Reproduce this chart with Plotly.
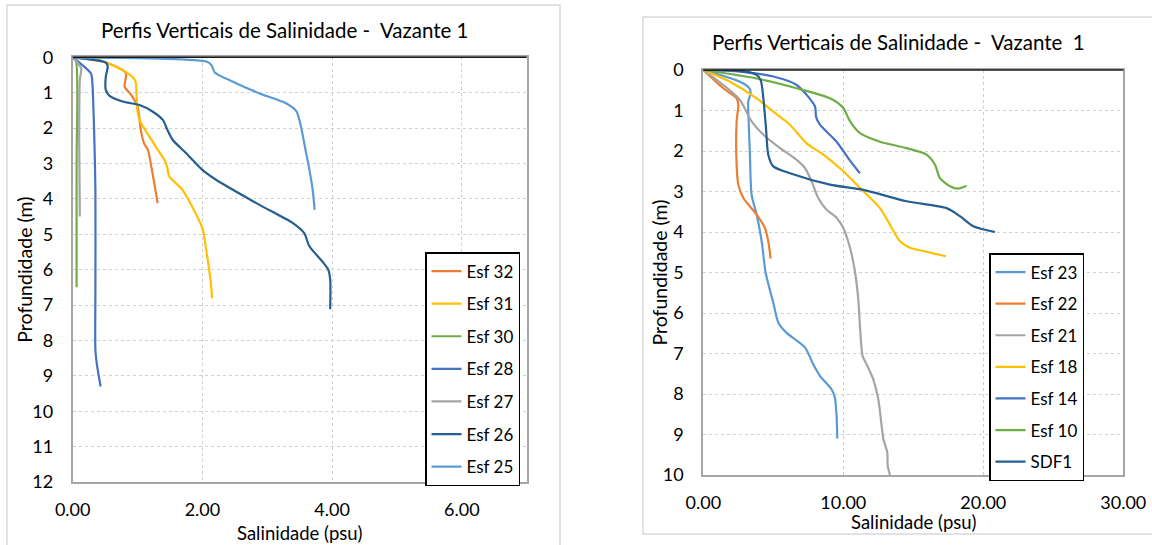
import plotly.graph_objects as go

# ---------------- data (salinity psu, depth m) ----------------
left_names = ["Esf 32", "Esf 31", "Esf 30", "Esf 28", "Esf 27", "Esf 26", "Esf 25"]
esf32_s = [0.0, 0.41, 0.82, 0.80, 0.90, 1.00, 1.05, 1.10, 1.16, 1.23, 1.31]
esf32_d = [0.0, 0.08, 0.45, 0.83, 1.06, 1.39, 2.05, 2.43, 2.62, 3.27, 4.12]
esf31_s = [0.0, 0.46, 0.72, 0.96, 0.99, 1.03, 1.28, 1.44, 1.49, 1.69, 2.00, 2.05, 2.13, 2.15]
esf31_d = [0.0, 0.12, 0.31, 0.64, 1.39, 1.77, 2.52, 2.99, 3.37, 3.74, 4.83, 5.34, 6.38, 6.81]
esf30_s = [0.0, 0.05, 0.06, 0.06]
esf30_d = [0.0, 0.10, 3.00, 6.50]
esf28_s = [0.0, 0.28, 0.30, 0.33, 0.35, 0.35, 0.35, 0.37, 0.43]
esf28_d = [0.0, 0.45, 0.64, 2.05, 3.74, 6.57, 8.27, 8.64, 9.30]
esf27_s = [0.0, 0.13, 0.11, 0.10, 0.11]
esf27_d = [0.0, 0.31, 0.64, 2.33, 4.50]
esf26_s = [0.0, 0.51, 0.54, 0.51, 0.51, 0.57, 0.77, 1.03, 1.23, 1.39, 1.46, 1.54, 1.75,
           2.00, 2.21, 2.88, 3.39, 3.57, 3.65, 3.85, 3.94, 3.97, 3.97]
esf26_d = [0.0, 0.15, 0.26, 0.55, 0.92, 1.09, 1.25, 1.35, 1.53, 1.77, 2.05, 2.33, 2.71,
           3.18, 3.46, 4.17, 4.68, 4.97, 5.34, 5.77, 6.00, 6.28, 7.12]
esf25_s = [0.0, 2.06, 2.14, 2.19, 2.47, 2.88, 3.29, 3.45, 3.52, 3.59, 3.65, 3.70, 3.73]
esf25_d = [0.0, 0.12, 0.22, 0.43, 0.69, 1.02, 1.30, 1.53, 1.96, 2.62, 3.18, 3.74, 4.31]

right_names = ["Esf 23", "Esf 22", "Esf 21", "Esf 18", "Esf 14", "Esf 10", "SDF1"]
esf23_s = [0.0, 2.62, 3.29, 3.38, 3.21, 3.24, 3.33, 3.45, 3.81, 4.17, 4.45, 5.00, 5.36,
           5.95, 7.26, 7.86, 8.33, 9.17, 9.40, 9.52, 9.57]
esf23_d = [0.0, 0.29, 0.45, 0.57, 0.78, 1.27, 2.09, 3.08, 3.57, 4.23, 5.00, 5.75, 6.24,
           6.49, 6.85, 7.27, 7.55, 7.89, 8.09, 8.54, 9.10]
esf22_s = [0.0, 1.43, 2.38, 2.50, 2.38, 2.38, 2.50, 2.86, 3.81, 4.40, 4.64, 4.81]
esf22_d = [0.0, 0.45, 0.70, 0.86, 1.27, 2.34, 2.83, 3.16, 3.57, 3.90, 4.23, 4.66]
esf21_s = [0.0, 1.43, 2.62, 3.45, 4.29, 5.48, 6.67, 7.26, 7.74, 8.21, 8.81, 9.52, 10.00,
           10.48, 10.83, 11.07, 11.19, 11.38, 11.67, 12.14, 12.50, 12.74, 12.86, 13.14, 13.17, 13.33]
esf21_d = [0.0, 0.37, 0.74, 1.27, 1.60, 1.93, 2.22, 2.42, 2.75, 3.16, 3.45, 3.65, 3.90,
           4.39, 4.97, 5.66, 6.32, 7.06, 7.27, 7.64, 8.13, 8.79, 9.11, 9.44, 9.77, 10.00]
esf18_s = [0.0, 1.90, 3.81, 5.00, 6.19, 7.38, 8.57, 10.00, 11.19, 12.62, 13.33, 14.05, 14.76, 15.71, 17.33]
esf18_d = [0.0, 0.29, 0.70, 1.03, 1.35, 1.81, 2.09, 2.50, 2.91, 3.41, 3.82, 4.23, 4.39, 4.47, 4.60]
esf14_s = [0.0, 2.62, 5.00, 6.67, 7.98, 8.05, 8.33, 9.52, 10.36, 11.19]
esf14_d = [0.0, 0.04, 0.16, 0.37, 0.90, 1.15, 1.35, 1.77, 2.18, 2.55]
esf10_s = [0.0, 3.81, 6.67, 9.05, 10.00, 10.48, 11.19, 12.62, 14.52, 15.95, 16.55, 16.90, 17.62, 18.21, 18.81]
esf10_d = [0.0, 0.21, 0.45, 0.70, 0.94, 1.27, 1.56, 1.77, 1.93, 2.09, 2.34, 2.67, 2.87, 2.93, 2.86]
sdf1_s = [0.0, 2.62, 3.81, 4.10, 4.29, 4.48, 4.64, 5.00, 6.19, 9.05, 11.43, 14.52, 17.38, 18.33, 19.29, 20.83]
sdf1_d = [0.0, 0.02, 0.12, 0.25, 0.70, 1.44, 2.09, 2.38, 2.55, 2.83, 2.96, 3.24, 3.41, 3.61, 3.86, 4.00]

title_text = "Perfis Verticais de Salinidade -&nbsp; Vazante 1"
title_text_r = "Perfis Verticais de Salinidade -&nbsp; Vazante&nbsp; 1"
x_title = "Salinidade (psu)"
y_title = "Profundidade (m)"

# ---------------- styles ----------------
ORANGE, YELLOW, GREEN, BLUE = "#ED7D31", "#FFC000", "#70AD47", "#4472C4"
GRAY, DBLUE, LBLUE = "#A5A5A5", "#255E91", "#5B9BD5"
FONT = "Lato"
W, H = 1152, 545

left_series = [(esf32_s, esf32_d, ORANGE), (esf31_s, esf31_d, YELLOW), (esf30_s, esf30_d, GREEN),
               (esf28_s, esf28_d, BLUE), (esf27_s, esf27_d, GRAY), (esf26_s, esf26_d, DBLUE),
               (esf25_s, esf25_d, LBLUE)]
right_series = [(esf23_s, esf23_d, LBLUE), (esf22_s, esf22_d, ORANGE), (esf21_s, esf21_d, GRAY),
                (esf18_s, esf18_d, YELLOW), (esf14_s, esf14_d, BLUE), (esf10_s, esf10_d, GREEN),
                (sdf1_s, sdf1_d, DBLUE)]

fig = go.Figure()
for name, (s, d, c) in zip(left_names, left_series):
    fig.add_trace(go.Scatter(x=s, y=d, name=name, mode="lines", xaxis="x", yaxis="y",
                             line=dict(color=c, width=2.2, shape="spline", smoothing=0.7),
                             legend="legend", legendgroup="L" + name))
for name, (s, d, c) in zip(right_names, right_series):
    fig.add_trace(go.Scatter(x=s, y=d, name=name, mode="lines", xaxis="x2", yaxis="y2",
                             line=dict(color=c, width=2.2, shape="spline", smoothing=0.7),
                             legend="legend2", legendgroup="R" + name))

def px_x(p):
    return p / W

def px_y(p):
    return 1 - p / H

# plot area pixel geometry
L = dict(x0=72.7, x1=526.7, y0=57.3, y1=482.0)
R = dict(x0=703.3, x1=1123.3, y0=70.0, y1=475.0)

axis_common = dict(showgrid=True, gridcolor="#D0D0D0", griddash="dot", gridwidth=1,
                   showline=True, linecolor="#A6A6A6", linewidth=2, mirror=True,
                   zeroline=False, ticks="outside", tickcolor="rgba(0,0,0,0)",
                   automargin=False,
                   tickfont=dict(family=FONT, size=18, color="#000000"))

fig.update_layout(
    width=W, height=H, autosize=False,
    margin=dict(l=0, r=0, t=0, b=0, autoexpand=False),
    paper_bgcolor="white", plot_bgcolor="white",
    font=dict(family=FONT, color="#000000"),
    xaxis=dict(domain=[px_x(L["x0"]), px_x(L["x1"])], range=[0, 7], dtick=2, tick0=0,
               tickformat=".2f", anchor="y", ticklen=10, **axis_common),
    yaxis=dict(domain=[px_y(L["y1"]), px_y(L["y0"])], range=[12, 0], dtick=1, tick0=0,
               anchor="x", ticklen=14, **axis_common),
    xaxis2=dict(domain=[px_x(R["x0"]), px_x(R["x1"])], range=[0, 30], dtick=10, tick0=0,
                tickformat=".2f", anchor="y2", ticklen=10, **axis_common),
    yaxis2=dict(domain=[px_y(R["y1"]), px_y(R["y0"])], range=[10, 0], dtick=1, tick0=0,
                anchor="x2", ticklen=14, **axis_common),
    legend=dict(x=px_x(425), y=px_y(252), xanchor="left", yanchor="top",
                bgcolor="white", bordercolor="#000000", borderwidth=1.5,
                font=dict(family=FONT, size=17, color="#000000"),
                tracegroupgap=7.5, itemwidth=30),
    legend2=dict(x=px_x(989), y=px_y(253), xanchor="left", yanchor="top",
                 bgcolor="white", bordercolor="#000000", borderwidth=1.5,
                 font=dict(family=FONT, size=17, color="#000000"),
                 tracegroupgap=6.5, itemwidth=30),
    showlegend=True,
)

# outer chart frames
fig.add_shape(type="rect", xref="paper", yref="paper", x0=px_x(7), x1=px_x(560),
              y0=px_y(548), y1=px_y(5), line=dict(color="#D9D9D9", width=1.5), layer="below")
fig.add_shape(type="rect", xref="paper", yref="paper", x0=px_x(643), x1=px_x(1156),
              y0=px_y(534), y1=px_y(17), line=dict(color="#D9D9D9", width=1.5), layer="below")
# dark top axis lines
fig.add_shape(type="line", xref="paper", yref="paper", x0=px_x(L["x0"]), x1=px_x(L["x1"]),
              y0=px_y(L["y0"]), y1=px_y(L["y0"]), line=dict(color="#1A1A1A", width=1.5))
fig.add_shape(type="line", xref="paper", yref="paper", x0=px_x(R["x0"]), x1=px_x(R["x1"]),
              y0=px_y(R["y0"]), y1=px_y(R["y0"]), line=dict(color="#1A1A1A", width=1.5))

# titles
ann = [
    dict(text=title_text, x=px_x(284), y=px_y(30), size=20.5),
    dict(text=title_text_r, x=px_x(898), y=px_y(42), size=20.5),
    dict(text=x_title, x=px_x((L["x0"] + L["x1"]) / 2), y=px_y(533), size=18.5),
    dict(text=x_title, x=px_x((R["x0"] + R["x1"]) / 2), y=px_y(522), size=18.5),
    dict(text=y_title, x=px_x(25), y=px_y((L["y0"] + L["y1"]) / 2), size=19.5, textangle=-90),
    dict(text=y_title, x=px_x(659), y=px_y((R["y0"] + R["y1"]) / 2), size=19.5, textangle=-90),
]
for a in ann:
    fig.add_annotation(xref="paper", yref="paper", showarrow=False, xanchor="center", yanchor="middle",
                       text=a["text"], x=a["x"], y=a["y"], textangle=a.get("textangle", 0),
                       font=dict(family=FONT, color="#000000", size=a["size"]))

fig.write_html("out.html", config={"displayModeBar": False},
               post_script="document.body.style.margin='0';document.body.style.overflow='hidden';")
